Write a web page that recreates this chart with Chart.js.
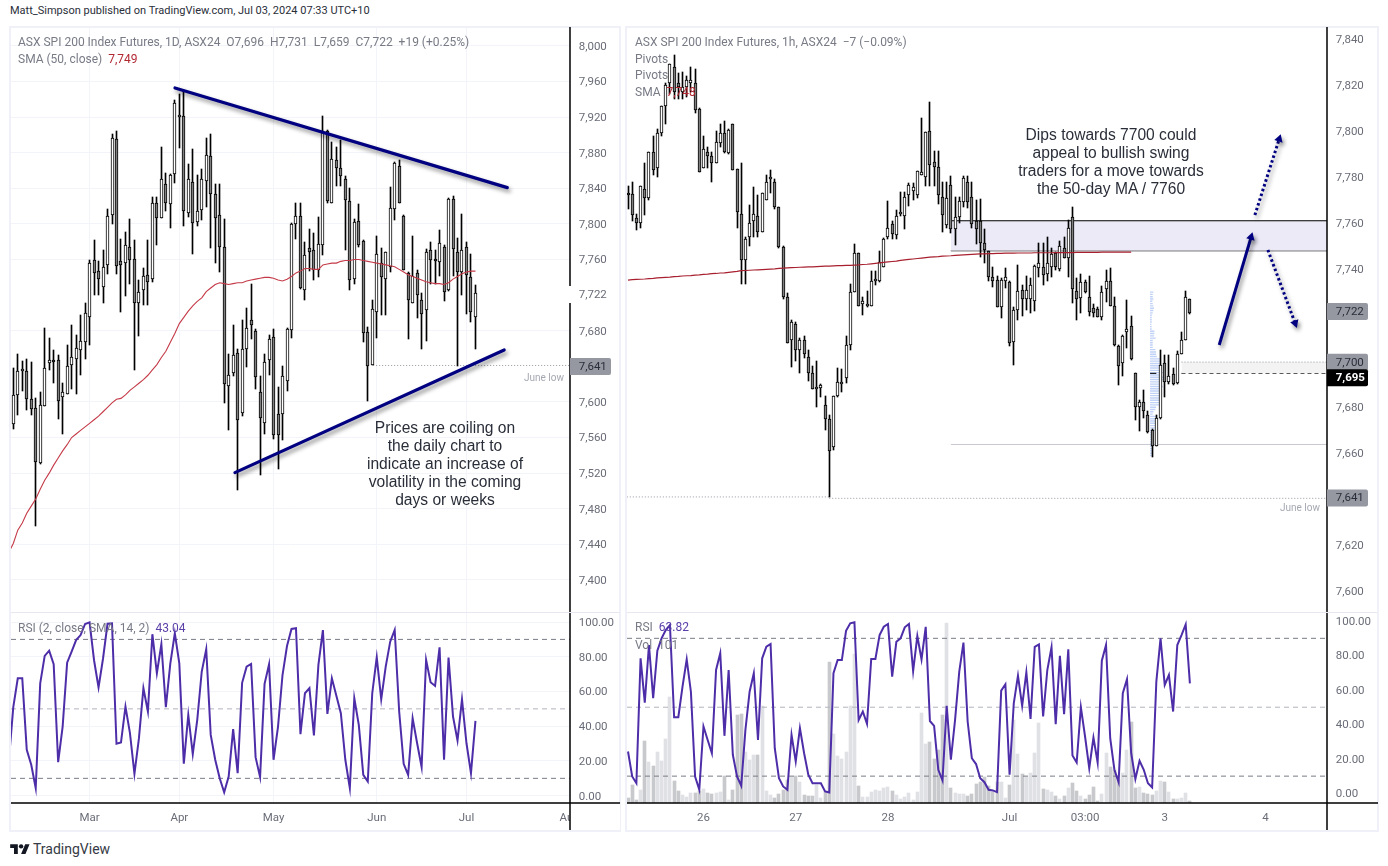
<!DOCTYPE html>
<html>
<head>
<meta charset="utf-8">
<title>ASX SPI 200 Index Futures</title>
<script src="https://cdn.jsdelivr.net/npm/chart.js@4"></script>
<style>
  html, body { margin: 0; background: #fff; }
  body { width: 1388px; height: 866px; position: relative; overflow: hidden; font-family: Roboto, sans-serif; }
  canvas { position: absolute; }
  .frame { position: absolute; box-sizing: border-box; border: 2px solid #f0f0f8; }
  .txt { position: absolute; white-space: pre; font-size: 12px; line-height: 14px; color: #787b86; }
  .note { position: absolute; text-align: center; font-family: "Liberation Sans", Arial, sans-serif; font-size: 15.6px; line-height: 18px; color: #2a2e39; white-space: pre; }
  .red { color: #b22833; }
  .pur { color: #5b3fa8; }
</style>
</head>
<body>
<div class="frame" style="left:9px;top:26px;width:612px;height:806px"></div>
<div class="frame" style="left:625px;top:26px;width:754px;height:806px"></div>
<div style="position:absolute;left:11px;top:612px;width:609px;height:1px;background:#e6e7f0"></div>
<div style="position:absolute;left:627px;top:612px;width:750px;height:1px;background:#e6e7f0"></div>

<script>
// ---- daily chart (first entry is the candle cut off by the left edge)
const dayOpen = [7573,
  7575,7608,7635,7635,7603,7593,7531,7595,7644,7647,
  7647,7606,7609,7641,7648,7658,7667,7696,7760,7747,
  7729,7754,7810,7896,7758,7756,7774,7761,7711,7726,
  7743,7738,7823,7807,7845,7822,7856,7920,7921,7812,
  7847,7802,7816,7848,7876,7834,7810,7774,7618,7632,
  7655,7588,7660,7692,7680,7611,7576,7647,7673,7587,
  7586,7624,7681,7800,7809,7726,7773,7771,7748,7776,
  7905,7823,7872,7863,7851,7826,7738,7803,7781,7679,
  7641,7701,7756,7738,7752,7817,7865,7809,7745,7711,
  7745,7714,7703,7771,7759,7757,7774,7726,7828,7769,
  7746,7774,7740,7696];
const dayClose = [7626,
  7608,7635,7635,7603,7592,7533,7597,7638,7647,7645,
  7601,7611,7640,7651,7661,7669,7700,7756,7745,7738,
  7752,7809,7897,7753,7754,7776,7760,7711,7723,7741,
  7735,7824,7807,7850,7823,7855,7936,7922,7814,7851,
  7801,7815,7850,7878,7834,7807,7774,7620,7630,7653,
  7580,7660,7683,7687,7628,7582,7645,7671,7563,7563,
  7629,7682,7800,7809,7728,7765,7769,7748,7777,7904,
  7826,7873,7863,7854,7827,7737,7802,7776,7678,7640,
  7704,7766,7740,7768,7818,7869,7823,7748,7715,7742,
  7720,7699,7768,7759,7758,7779,7723,7828,7772,7746,
  7771,7743,7701,7722];
const dayHigh = [7626,
  7638,7654,7646,7648,7645,7605,7611,7683,7672,7658,
  7653,7621,7664,7687,7675,7698,7711,7759,7782,7758,
  7771,7817,7901,7905,7783,7791,7806,7782,7737,7751,
  7782,7830,7830,7887,7857,7856,7939,7946,7951,7867,
  7884,7855,7862,7897,7901,7845,7845,7806,7654,7686,
  7659,7692,7706,7733,7682,7629,7654,7675,7682,7617,
  7640,7683,7801,7824,7824,7780,7794,7790,7808,7921,
  7906,7892,7887,7894,7854,7840,7806,7822,7782,7684,
  7714,7786,7773,7768,7842,7870,7872,7810,7746,7786,
  7748,7722,7772,7780,7771,7793,7776,7829,7831,7784,
  7811,7780,7766,7731];
const dayLow = [7573,
  7570,7585,7612,7591,7585,7461,7530,7595,7636,7621,
  7581,7564,7609,7614,7609,7630,7648,7664,7720,7720,
  7711,7744,7800,7744,7701,7719,7733,7636,7674,7709,
  7709,7735,7776,7807,7815,7796,7846,7885,7798,7808,
  7766,7798,7805,7819,7773,7756,7746,7599,7568,7629,
  7501,7584,7639,7671,7615,7518,7564,7630,7558,7525,
  7557,7612,7672,7783,7727,7714,7747,7737,7740,7765,
  7824,7823,7843,7843,7771,7726,7733,7774,7667,7601,
  7641,7672,7698,7698,7746,7804,7823,7748,7671,7711,
  7694,7660,7668,7733,7733,7741,7713,7725,7742,7640,
  7720,7699,7690,7659];
const daySma = [7431,
  7441,7456,7464,7475,7483,7491,7502,7512,7520,7529,
  7537,7545,7552,7560,7564,7568,7572,7576,7580,7584,
  7589,7594,7599,7603,7604,7608,7613,7617,7621,7625,
  7630,7636,7642,7650,7657,7667,7677,7688,7695,7702,
  7708,7713,7717,7724,7728,7732,7734,7733,7732,7733,
  7734,7734,7736,7737,7738,7739,7740,7740,7739,7737,
  7736,7738,7741,7745,7747,7750,7750,7749,7749,7754,
  7755,7756,7756,7758,7759,7759,7760,7760,7759,7758,
  7757,7756,7755,7754,7753,7752,7749,7746,7743,7741,
  7739,7737,7735,7734,7733,7733,7732,7734,7738,7741,
  7744,7746,7747,7747];
const dayRsi = [20,
  51,67.6,67.6,26.4,17.8,4.4,64.7,80.5,83.5,75.7,
  19.3,39.8,76.6,83,89.6,92.5,98.9,99.8,78,62.4,
  79,99,99.2,29.9,30.6,51.3,36,12.6,33,61.9,
  48.5,93,70.5,87.2,51,76.2,93.5,76.2,18.4,46.5,
  24,43.7,71.5,84.3,35,20.7,10,2,11,38.3,
  13,65,74.3,75.9,22.2,10.7,64.4,75.7,20.7,39.8,
  69.5,86.2,96,96.4,35.4,59,61.9,34.7,75.3,95.4,
  47.1,67.6,57.5,47.5,20.7,4.4,56.1,40.8,12,8.2,
  59,79.7,55.5,74.3,88.7,95.4,48.5,18.4,12,44.6,
  30.2,16.5,78.2,65.3,63.2,85.4,20.7,79.5,45.6,31.8,
  55.5,30.2,13,43.04];

const dayPriceTicks = [8000,7960,7920,7880,7840,7800,7760,7680,7600,7560,7520,7480,7440,7400];
const dayMonthTicks = [18,38,59,82,102,125];
const dayMonthLabels = ["Mar","Apr","May","Jun","Jul","Aug"];
const rsiTicks = [100,80,60,40,20,0];

// trend lines, in candle number / price
const dayUpperX = [37.04,111.1], dayUpperY = [7952.8,7840.8];
const dayLowerX = [50.4,110.4], dayLowerY = [7520.6,7658.4];

// ---- hourly chart
const hourOpen = [7773,7772.5,7762,7760,7775,7771,7791,7784,7799,7811,
  7821,7828,7821,7817,7819,7821,7821,7809.4,7784,7791,
  7789,7786,7795,7799,7790.5,7803,7783.5,7764,7744,7754,
  7761,7763,7756,7770,7779,7778,7767,7749.5,7728,7709,
  7716,7705,7709,7702,7695,7688,7688.5,7681,7675,7662.5,
  7685,7690,7692.5,7707,7730,7747,7725,7724,7724,7735,
  7735,7741,7754,7759.6,7755,7764,7763,7772,7774,7772,
  7781,7780,7800,7786.4,7784.2,7771.5,7759,7776.4,7757.3,7762.5,
  7769.3,7778,7771.2,7760.9,7761,7751.2,7748,7736.4,7735.3,7723.4,
  7735,7734.5,7708.4,7722.4,7731,7727,7727,7726.3,7740.3,7741,
  7738,7741,7746.8,7739.9,7749.3,7745,7762.5,7730.3,7727.3,7734.4,
  7728,7723,7722.5,7719.3,7731.2,7735,7724,7706.7,7699.4,7712.5,
  7715.2,7695,7680,7682.3,7676.5,7670.3,7663.2,7675.1,7699.4,7691,
  7694.3,7690.3,7703.3,7709.4,7727.2];
const hourClose = [7772,7763.5,7760,7776,7771,7791,7783,7799,7811,7820,
  7829,7817,7819,7819,7822,7822,7809,7782,7792,7789,
  7786,7795.3,7799,7791,7800.4,7783,7765,7744,7753,7760,
  7764,7756,7773,7778,7779.5,7767,7749.5,7728,7708,7717,
  7705,7709,7703,7695,7688,7688,7689.5,7675,7661,7685,
  7691,7691,7707,7730,7747,7724,7726,7725,7735,7735,
  7743,7753,7758,7755.4,7763,7764,7771.5,7776.4,7775.5,7782.5,
  7782,7799.7,7785.4,7784.2,7772.4,7763.4,7771,7757.3,7762.5,7769.5,
  7779.6,7769.3,7759.6,7757.3,7751.2,7748.3,7736.4,7735,7723.4,7735.3,
  7736.4,7708,7722.4,7730.3,7726.8,7731,7733,7741.3,7742.5,7737.4,
  7742.5,7746.4,7741,7750.2,7745,7758,7731.2,7727,7734.2,7730,
  7721.2,7720.8,7719.3,7730.2,7735,7724,7707,7698,7711,7714,
  7700.9,7680,7682.3,7678.4,7669.3,7663.2,7675.1,7698.3,7691,7693.5,
  7690,7703.3,7709.4,7728,7721];
const hourHigh = [7776,7778,7764,7776,7786,7791,7798,7801,7811,7821,
  7829,7833,7825,7825.5,7824,7828,7827,7810,7798,7793,
  7791,7800,7803,7804.5,7801,7803,7783.5,7786,7754,7768,
  7775.5,7772,7773,7781,7783,7779,7767,7750,7729.5,7718,
  7717,7710,7711,7705,7698,7700,7690,7685,7676.6,7685,
  7697,7696.5,7711,7733.5,7751,7747,7728,7730.5,7739,7739,
  7748,7753.5,7769.6,7761,7765.7,7773.4,7773.4,7777.4,7777.4,7782.5,
  7805.5,7799.7,7812.5,7791.3,7791.3,7778,7778,7780.5,7771.5,7771.2,
  7780.5,7780.5,7778,7770,7770.3,7757.3,7748,7741,7737,7736,
  7740.3,7735,7723.4,7741.8,7733,7737,7736,7741.6,7751.2,7751.2,
  7754,7749,7747.5,7752,7754,7761.3,7767.1,7736,7737.9,7735.3,
  7737,7724.8,7723.4,7732.6,7739.6,7740.3,7728,7707,7711.3,7726.5,
  7719.6,7695,7683.3,7687.4,7678.3,7670.4,7676.5,7705,7702.6,7702.6,
  7697.2,7704.3,7712.5,7730.4,7727.2];
const hourLow = [7766,7761,7757,7758,7763.5,7770,7781,7780,7798,7803,
  7816,7814,7814,7814,7815,7817,7808,7782,7784,7784,
  7778,7786,7793,7790.5,7790,7783,7758,7733.5,7733.5,7750,
  7754,7754,7756,7770,7773,7766,7749,7727,7708,7697.6,
  7700,7695,7701.5,7691.5,7688,7680,7684.5,7670,7641,7661.6,
  7684.5,7686.7,7690.6,7705,7730,7724,7720,7723.7,7724,7733,
  7734.5,7741,7753,7753,7753,7763,7757.6,7767.4,7770,7771,
  7781,7776,7776,7776,7768.3,7756,7757.7,7755.5,7750.5,7760,
  7767.1,7766.4,7757.7,7751,7745.4,7742.8,7735,7732.4,7723.4,7718.6,
  7732,7706.7,7698.3,7717.8,7719.6,7722.4,7721,7722,7736.7,7733,
  7735,7736.7,7739.6,7739,7744.7,7736.7,7725.4,7718,7720.8,7729.5,
  7719.8,7719.3,7719,7717.9,7725.8,7723.9,7706.5,7689.6,7693.6,7705.5,
  7700.4,7674.6,7669.7,7675.5,7668.8,7658.4,7663.2,7675,7684.5,7690,
  7689.6,7690,7703,7709,7720.4];
const hourSma = [7735.2,7735.4,7735.5,7735.6,7735.7,7735.9,7736,7736.2,7736.3,7736.4,
  7736.5,7736.7,7736.8,7737,7737.1,7737.2,7737.4,7737.5,7737.7,7737.8,
  7738,7738.1,7738.3,7738.4,7738.6,7738.8,7739,7739.3,7739.4,7739.5,
  7739.6,7739.7,7739.8,7739.9,7740,7740.1,7740.3,7740.4,7740.5,7740.6,
  7740.7,7740.8,7740.9,7741,7741,7741.1,7741.2,7741.3,7741.3,7741.4,
  7741.5,7741.5,7741.6,7741.6,7741.7,7741.8,7742,7742.1,7742.3,7742.5,
  7742.7,7742.9,7743.1,7743.3,7743.5,7743.8,7744,7744.2,7744.4,7744.6,
  7744.8,7745,7745.2,7745.3,7745.4,7745.6,7745.7,7745.8,7746,7746.1,
  7746.2,7746.3,7746.4,7746.5,7746.6,7746.6,7746.7,7746.7,7746.8,7746.8,
  7746.9,7746.9,7746.9,7747,7747,7747,7747,7747.1,7747.1,7747.1,
  7747.1,7747.1,7747.2,7747.2,7747.2,7747.2,7747.2,7747.3,7747.3,7747.3,
  7747.3,7747.3,7747.3,7747.4,7747.4,7747.4,7747.4,7747.4,7747.4,7747.4,7747.4];
const hourRsi = [24.3,9.8,5.9,78.4,52.7,86.1,55.2,82.8,90,94.8,
  97.7,44.2,44.2,62,77.8,59,9.8,2.1,38.8,31,
  23.3,71.6,81.3,33.4,71.6,22.4,9.8,4.4,36.8,59,
  69.7,31,78.4,85.1,86.7,26.2,8.8,4,2.1,34,
  18.5,37.8,23.3,10.8,5.9,5.9,5.9,1.1,0.5,69.7,
  77.4,77.4,94.4,98.7,99.3,42.6,47.5,40.3,78,78,
  91.9,96.7,98.3,67.8,88,90,96.4,98.3,71,91.3,
  77.8,96.7,42,39.2,13.7,7.5,50.8,19.5,42.6,70.7,
  87.5,41.7,20.4,17,8.8,6.5,2.1,1.7,0.7,59.6,
  63.3,10.8,52.3,68.3,50.8,70.3,43.2,85.1,86.5,44.6,
  71.6,84.8,40.1,79.9,46,83.6,22,17.9,50,33,
  14.6,32.4,17.9,77,86.1,32,13.7,6.5,58.1,66.2,
  23.3,8.3,18.9,13.7,5.9,3.4,64.9,90,62.9,68.7,
  47.5,86.1,91.9,98.1,63.82];
const hourVol = [210,770,140,560,2618,1722,1568,2156,1778,2702,
  4438,938,518,350,266,406,434,490,602,434,
  392,434,476,1148,140,560,3710,3752,2128,1820,
  2016,2030,4088,518,322,224,392,560,980,1078,
  1120,896,350,280,308,770,224,490,5936,2912,
  1988,1862,2156,4088,6272,728,266,266,476,560,
  518,644,686,518,350,182,266,434,140,476,
  3794,2492,2576,1862,2240,3710,7560,644,434,392,
  392,308,392,812,896,1106,728,476,896,896,
  224,770,3500,2072,1232,1106,1274,2114,3374,602,
  560,476,308,182,308,644,854,518,308,182,
  350,686,98,392,2114,1526,1400,980,1274,2240,
  3416,644,686,434,392,350,518,938,896,476,
  182,182,224,434,101];

// session volume profile: one row per point, from 7730 down to 7659
const profileTop = 7730;
const profileVol = [10,8,8,10,7,8,10,12,10,8,6,5,5,5,4,5,5,13,13,12,17,8,8,8,8,16,18,18,20,30,
  32,30,30,32,36,42,36,40,38,36,34,38,34,32,34,30,34,30,30,28,18,16,10,8,18,20,22,20,20,16,
  14,10,6,8,8,8,7,7,8,7,7,5];

const hourPriceTicks = [7840,7820,7800,7780,7760,7740,7680,7660,7620,7600];
const hourDateTicks = [18,40,62,91,109,128,152];
const hourDateLabels = ["26","27","28","Jul","03:00","3","4"];

const NAVY = "#000080";
const AXIS_TEXT = "#6a6d78";
const GRID = "#f3f4f9";
const tickFont = { family: "Roboto", size: 11.5 };

function points(xs, ys) {
  return xs.map((x, i) => ({ x: x, y: ys[i] }));
}
function series(values) {
  return values.map((v, i) => ({ x: i, y: v }));
}
function level(y, x0, x1) {
  return [{ x: x0, y: y }, { x: x1, y: y }];
}
function line(data, color, width, extra) {
  return Object.assign({ type: "line", data: data, borderColor: color, borderWidth: width,
    pointRadius: 0, tension: 0, fill: false, order: 5 }, extra || {});
}

function candles(open, high, low, close) {
  const wick = open.map((o, i) => ({ x: i, y: [low[i], high[i]] }));
  const body = open.map((o, i) => ({ x: i, y: [o, close[i]] }));
  return [
    { type: "bar", data: wick, backgroundColor: "#000", barThickness: 1, grouped: false, order: 3, snap: true },
    { type: "bar", data: body, barThickness: 3, grouped: false, order: 2, minBarLength: 2, snap: true,
      backgroundColor: open.map((o, i) => (close[i] >= o ? "#fff" : "#7f7f7f")),
      borderColor: "#000", borderWidth: 1, borderSkipped: false }
  ];
}

// axis lines and price labels drawn on the axis
function paneDraw(p) {
  return {
    id: "paneDraw",
    afterDraw(chart) {
      const c = chart.ctx, a = chart.chartArea;
      if (p.cutRight) {
        c.fillStyle = "#fff";
        c.fillRect(a.right, a.bottom + 1, chart.width - a.right, chart.height - a.bottom);
      }
      c.strokeStyle = "#000";
      c.lineWidth = 1.5;
      c.beginPath();
      c.moveTo(a.right, 0);
      c.lineTo(a.right, chart.height);
      if (p.bottomLine) {
        c.moveTo(0, a.bottom);
        c.lineTo(chart.width, a.bottom);
      }
      c.stroke();
      (p.labels || []).forEach((l) => {
        const y = chart.scales.y.getPixelForValue(l.value) + 1 + (l.dy || 0);
        c.fillStyle = l.bg;
        c.beginPath();
        c.roundRect(a.right + (l.plain ? -1 : 0), y - 8.5, l.plain ? 38 : 41, 17, [0, 2, 2, 0]);
        c.fill();
        c.fillStyle = l.fg;
        c.font = (l.bold ? "bold " : "") + "11.5px Roboto";
        c.textAlign = "left";
        c.textBaseline = "middle";
        c.fillText(l.value.toLocaleString("en-US"), a.right + 8.7, y + 0.5);
      });
    }
  };
}

// soft shadow under the hand drawn lines and arrows, crisp candle edges
const shadowDraw = {
  id: "shadowDraw",
  beforeDatasetDraw(chart, args) {
    const ds = chart.data.datasets[args.index];
    if (ds.snap) {
      args.meta.data.forEach((el) => {
        el.x = Math.floor(el.x) + 0.5;
        el.y = Math.round(el.y);
        el.base = Math.round(el.base);
      });
    }
    if (ds.shadow) {
      const c = chart.ctx;
      c.save();
      c.shadowColor = "rgba(0,0,0,0.45)";
      c.shadowBlur = 4;
      c.shadowOffsetX = 2;
      c.shadowOffsetY = 3;
    }
  },
  afterDatasetDraw(chart, args) {
    if (chart.data.datasets[args.index].shadow) chart.ctx.restore();
  }
};

function pane(box, p) {
  const cv = document.createElement("canvas");
  cv.width = box.w;
  cv.height = box.h;
  cv.style.left = box.x + "px";
  cv.style.top = box.y + "px";
  cv.style.width = box.w + "px";
  cv.style.height = box.h + "px";
  document.body.appendChild(cv);
  const scales = {
    x: {
      type: "linear", min: p.xMin, max: p.xMax, offset: false,
      afterBuildTicks: (s) => { s.ticks = p.xTicks.map((v) => ({ value: v })); },
      afterFit: (s) => { s.height = p.xLabels ? 27 : 0; s.paddingLeft = 0; s.paddingRight = 0; },
      grid: { display: p.grid, offset: false, color: GRID, drawTicks: false },
      border: { display: false },
      ticks: { display: !!p.xLabels, autoSkip: false, maxRotation: 0, padding: 8, color: AXIS_TEXT,
        font: tickFont, callback: (v, i) => (p.xLabels ? p.xLabels[i] : "") }
    },
    y: {
      position: "right", min: p.yMin, max: p.yMax,
      afterBuildTicks: (s) => { s.ticks = p.yTicks.map((v) => ({ value: v })); },
      afterFit: (s) => { s.width = p.axisW; s.paddingTop = 0; s.paddingBottom = 0; },
      grid: { display: p.grid, color: GRID, drawTicks: false },
      border: { display: false },
      ticks: { autoSkip: false, padding: 8.7, labelOffset: 1, color: AXIS_TEXT, font: tickFont, callback: p.yFormat }
    }
  };
  if (p.volMax) scales.volY = { display: false, min: 0, max: p.volMax };
  return new Chart(cv, {
    type: "bar",
    data: { datasets: p.datasets },
    plugins: [paneDraw(p), shadowDraw],
    options: {
      responsive: false, animation: false, devicePixelRatio: 1, events: [],
      layout: { padding: 0, autoPadding: false },
      scales: scales,
      plugins: { legend: { display: false }, tooltip: { enabled: false } }
    }
  });
}

const priceFormat = (v) => v.toLocaleString("en-US");
const rsiFormat = (v) => v.toFixed(2);
const GREYBOX = "#9598a1";
const DOTS = "#9598a1";

// left price pane
const dx0 = 0.49, dx1 = 125.07;
pane({ x: 11, y: 27, w: 609, h: 585 }, {
  xMin: dx0, xMax: dx1, xTicks: dayMonthTicks, grid: true, axisW: 50,
  yMin: 7364, yMax: 8021.3, yTicks: dayPriceTicks, yFormat: priceFormat,
  labels: [
    { value: 7722, bg: "#fff", fg: AXIS_TEXT, plain: true },
    { value: 7641, bg: GREYBOX, fg: "#2a2e39" }
  ],
  datasets: [
    line(level(7641, 81.2, dx1), DOTS, 1, { borderDash: [1, 2], order: 6 })
  ].concat(candles(dayOpen, dayHigh, dayLow, dayClose), [
    line(series(daySma), "#c43a48", 1.1, { order: 1 }),
    line(points(dayUpperX, dayUpperY), NAVY, 3.2, { order: 0, shadow: true, borderCapStyle: "round" }),
    line(points(dayLowerX, dayLowerY), NAVY, 3.2, { order: 0, shadow: true, borderCapStyle: "round" })
  ])
});

// left RSI pane
pane({ x: 11, y: 613, w: 609, h: 217 }, {
  xMin: dx0, xMax: dx1, xTicks: dayMonthTicks, xLabels: dayMonthLabels, grid: true, axisW: 50,
  yMin: -4.2, yMax: 105.2, yTicks: rsiTicks, yFormat: rsiFormat, bottomLine: true, cutRight: true,
  datasets: [
    line(level(90, dx0, dx1), "#787b86", 1, { borderDash: [5, 4] }),
    line(level(50, dx0, dx1), "#b2b5be", 1, { borderDash: [5, 4] }),
    line(level(10, dx0, dx1), "#787b86", 1, { borderDash: [5, 4] }),
    line(series(dayRsi), "#4d2ea8", 2, { order: 1 })
  ]
});

// right price pane
const hx0 = -0.24, hx1 = 166.7;
const profile = [];
profileVol.forEach((v, i) => {
  const price = profileTop - i;
  profile.push({ x: 124.5, y: price }, { x: 124.5 + v * 0.0795, y: price }, { x: 124.5, y: null });
});
pane({ x: 627, y: 27, w: 751, h: 585 }, {
  xMin: hx0, xMax: hx1, xTicks: hourDateTicks, grid: false, axisW: 51,
  yMin: 7591, yMax: 7845.2, yTicks: hourPriceTicks, yFormat: priceFormat,
  labels: [
    { value: 7722, bg: GREYBOX, fg: "#2a2e39" },
    { value: 7700, bg: GREYBOX, fg: "#2a2e39" },
    { value: 7695, bg: "#000", fg: "#fff", bold: true, dy: 4 },
    { value: 7641, bg: GREYBOX, fg: "#2a2e39" }
  ],
  datasets: [
    line(level(7761, 77, hx1), "#000", 1.2, { fill: "+1", backgroundColor: "#ebeaf6", order: 9 }),
    line(level(7748, 77, hx1), "#000", 1.2, { order: 9 }),
    line(level(7699.6, 132, hx1), DOTS, 1, { borderDash: [1, 2], fill: "+1", backgroundColor: "#f3f3f3", order: 8 }),
    line(level(7694.7, 132, hx1), "#000", 1, { borderDash: [4, 3], order: 8 }),
    line(level(7694.7, 124.5, 126), "#000", 1, { order: 4 }),
    line(level(7663.8, 77, hx1), "#c8c9d0", 1, { order: 8 }),
    line(level(7641, -1, 48), DOTS, 1, { borderDash: [1, 2], order: 8 }),
    line(level(7640.4, 48, hx1), DOTS, 1, { borderDash: [1, 2], order: 8 }),
    line(profile, "rgba(130,165,240,0.5)", 1.4, { order: 7, spanGaps: false })
  ].concat(candles(hourOpen, hourHigh, hourLow, hourClose), [
    line(series(hourSma), "#a8202f", 1.2, { order: 1 }),
    line(points([141, 148.6], [7707, 7753.9]), NAVY, 3, { order: 0, shadow: true,
      pointRadius: [0, 5], pointStyle: "triangle", pointRotation: [0, 16], pointBackgroundColor: NAVY, pointBorderWidth: 0 }),
    line(points([149.5, 155.3], [7763.5, 7796.5]), NAVY, 3, { order: 0, shadow: true, borderDash: [2.5, 2.5],
      pointRadius: [0, 5], pointStyle: "triangle", pointRotation: [0, 18], pointBackgroundColor: NAVY, pointBorderWidth: 0 }),
    line(points([152.6, 159.1], [7748.3, 7716.5]), NAVY, 3, { order: 0, shadow: true, borderDash: [2.5, 2.5],
      pointRadius: [0, 5], pointStyle: "triangle", pointRotation: [0, 160], pointBackgroundColor: NAVY, pointBorderWidth: 0 })
  ])
});

// right RSI + volume pane
pane({ x: 627, y: 613, w: 751, h: 217 }, {
  xMin: hx0, xMax: hx1, xTicks: hourDateTicks, xLabels: hourDateLabels, grid: false, axisW: 51,
  yMin: -5.6, yMax: 104.7, yTicks: rsiTicks, yFormat: rsiFormat, bottomLine: true, volMax: 7980,
  datasets: [
    { type: "bar", yAxisID: "volY", data: series(hourVol), barThickness: 3, grouped: false, order: 7, snap: true,
      backgroundColor: hourVol.map((v, i) => (hourClose[i] >= hourOpen[i] ? "#e0e1e5" : "#c8c9cc")) },
    line(level(90, hx0, hx1), "#787b86", 1, { borderDash: [5, 4] }),
    line(level(50, hx0, hx1), "#b2b5be", 1, { borderDash: [5, 4] }),
    line(level(10, hx0, hx1), "#787b86", 1, { borderDash: [5, 4] }),
    line(series(hourRsi), "#4d2ea8", 2, { order: 1 })
  ]
});

function addText(cls, left, top, html, extra) {
  const d = document.createElement("div");
  d.className = cls;
  d.style.left = left + "px";
  d.style.top = top + "px";
  d.innerHTML = html;
  if (extra) d.style.cssText += extra;
  document.body.appendChild(d);
}
addText("txt", 10, 4, "Matt_Simpson published on TradingView.com, Jul 03, 2024 07:33 UTC+10", "font-size:11px;color:#2a2e39");
addText("txt", 18, 35, "ASX SPI 200 Index Futures, 1D, ASX24  O7,696  H7,731  L7,659  C7,722  +19 (+0.25%)");
addText("txt", 18, 52, 'SMA (50, close)  <span class="red">7,749</span>');
addText("txt", 18, 621, 'RSI (2, close, SMA, 14, 2)  <span class="pur">43.04</span>');
addText("txt", 635, 35, "ASX SPI 200 Index Futures, 1h, ASX24  −7 (−0.09%)");
addText("txt", 635, 52, "Pivots");
addText("txt", 635, 68, "Pivots");
addText("txt", 635, 85, 'SMA  <span class="red">7,748</span>');
addText("txt", 635, 620, 'RSI  <span class="pur">63.82</span>');
addText("txt", 635, 638, "Vol  101");
addText("txt", 0, 371, "June low", "font-size:10px;color:#a5a8b2;left:auto;right:824px");
addText("txt", 0, 501, "June low", "font-size:10px;color:#a5a8b2;left:auto;right:68px");
addText("note", 300, 419, "Prices are coiling on\nthe daily chart to\nindicate an increase of\nvolatility in the coming\ndays or weeks", "width:290px");
addText("note", 960, 126, "Dips towards 7700 could\nappeal to bullish swing\ntraders for a move towards\nthe 50-day MA / 7760", "width:302px");
addText("txt", 33, 842, "TradingView", "font-size:14px;line-height:14px;color:#363a45");
</script>
<svg style="position:absolute;left:10px;top:842px" width="20" height="12" viewBox="0 0 36 22" fill="#131722">
  <path d="M14 22H7V11H0V4h14v18zM28 22h-8l7.5-18h8L28 22z"></path><circle cx="20" cy="8" r="4"></circle>
</svg>
</body>
</html>
